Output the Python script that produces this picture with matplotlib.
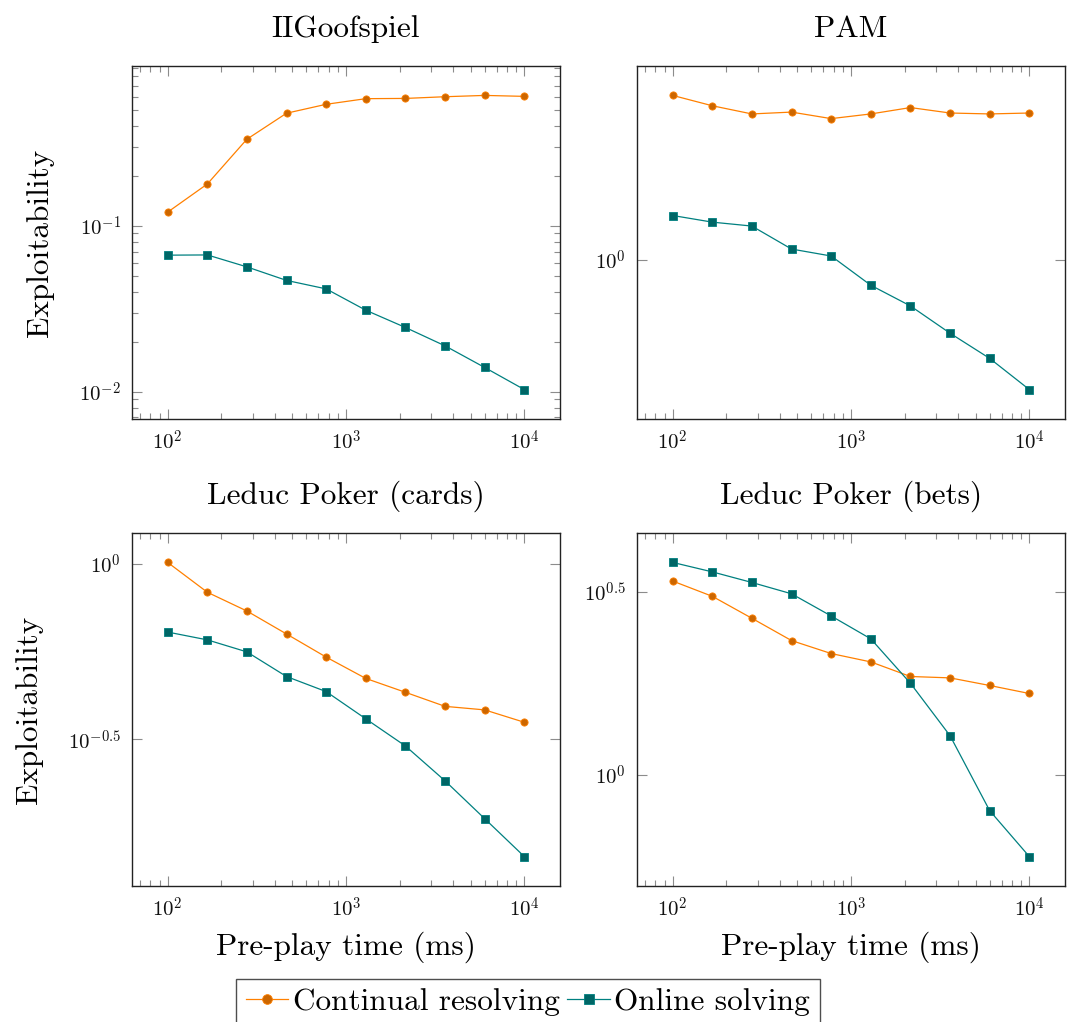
import numpy as np
import matplotlib
matplotlib.use("Agg")
import matplotlib.pyplot as plt
from matplotlib.ticker import FixedLocator, FixedFormatter, LogLocator, NullLocator, NullFormatter
from matplotlib.lines import Line2D

plt.rcParams['font.family'] = ['cmr10', 'DejaVu Serif']
plt.rcParams['mathtext.fontset'] = 'cm'
plt.rcParams['axes.unicode_minus'] = False
plt.rcParams['axes.formatter.use_mathtext'] = True

# ---------------- data ----------------
x_ms = [100, 167, 278, 464, 774, 1292, 2154, 3594, 5995, 10000]

goof_cr = [0.121, 0.179, 0.333, 0.478, 0.541, 0.585, 0.587, 0.601, 0.612, 0.604]
goof_os = [0.0666, 0.0668, 0.0566, 0.0469, 0.0417, 0.0310, 0.0244, 0.0189, 0.0140, 0.0103]

pam_cr = [2.32, 2.20, 2.11, 2.13, 2.06, 2.11, 2.18, 2.12, 2.11, 2.12]
pam_os = [1.254, 1.212, 1.188, 1.056, 1.019, 0.877, 0.789, 0.686, 0.603, 0.514]

cards_cr = [1.011, 0.831, 0.735, 0.632, 0.543, 0.472, 0.431, 0.393, 0.384, 0.354]
cards_os = [0.640, 0.608, 0.562, 0.478, 0.433, 0.362, 0.303, 0.241, 0.188, 0.1466]

bets_cr = [3.38, 3.07, 2.675, 2.325, 2.143, 2.033, 1.855, 1.839, 1.753, 1.667]
bets_os = [3.80, 3.58, 3.35, 3.12, 2.714, 2.35, 1.778, 1.278, 0.798, 0.598]

titles = ["IIGoofspiel", "PAM", "Leduc Poker (cards)", "Leduc Poker (bets)"]
series_names = ["Continual resolving", "Online solving"]

x_ticks = [1e2, 1e3, 1e4]
x_tick_labels = [r"$10^{2}$", r"$10^{3}$", r"$10^{4}$"]

goof_yticks = [1e-2, 1e-1]
goof_ylabels = [r"$10^{-2}$", r"$10^{-1}$"]
pam_yticks = [1.0]
pam_ylabels = [r"$10^{0}$"]
cards_yticks = [10 ** -0.5, 1.0]
cards_ylabels = [r"$10^{-0.5}$", r"$10^{0}$"]
bets_yticks = [1.0, 10 ** 0.5]
bets_ylabels = [r"$10^{0}$", r"$10^{0.5}$"]

ylabel = "Exploitability"
xlabel = "Pre-play time (ms)"

# ---------------- style ----------------
ORANGE = "#FF8000"
ORANGE_D = "#CC6600"
TEAL = "#008080"
TEAL_D = "#006666"
TICK_C = "#8c8c8c"
BIG = 22.5
SMALL = 15

W, H = 1068, 1022
fig = plt.figure(figsize=(W / 100, H / 100), dpi=100)


def px_axes(l, t, r, b):
    return fig.add_axes([l / W, 1 - b / H, (r - l) / W, (b - t) / H])


def enlarged(vals, frac=0.1):
    lv = np.log10(np.asarray(vals, dtype=float))
    lo, hi = lv.min(), lv.max()
    d = (hi - lo) * frac
    return 10 ** (lo - d), 10 ** (hi + d)


panels = [
    (132, 66, 560, 419, goof_cr, goof_os, goof_yticks, goof_ylabels, True),
    (637, 66, 1065, 419, pam_cr, pam_os, pam_yticks, pam_ylabels, False),
    (132, 533, 560, 886, cards_cr, cards_os, cards_yticks, cards_ylabels, False),
    (637, 533, 1065, 886, bets_cr, bets_os, bets_yticks, bets_ylabels, False),
]

for i, (l, t, r, b, cr, os_, yt, yl, yminor) in enumerate(panels):
    ax = px_axes(l, t, r, b)
    ax.set_xscale("log")
    ax.set_yscale("log")
    ax.plot(x_ms, cr, color=ORANGE, lw=0.9, marker="o", ms=5.2,
            mfc=ORANGE_D, mec=ORANGE, mew=0.6, zorder=3)
    ax.plot(x_ms, os_, color=TEAL, lw=0.9, marker="s", ms=5.2,
            mfc=TEAL_D, mec=TEAL, mew=0.6, zorder=3)
    ax.set_xlim(*enlarged(x_ms))
    ax.set_ylim(*enlarged(list(cr) + list(os_)))

    ax.xaxis.set_major_locator(FixedLocator(x_ticks))
    ax.xaxis.set_major_formatter(FixedFormatter(x_tick_labels))
    ax.xaxis.set_minor_locator(LogLocator(base=10, subs=np.arange(2, 10)))
    ax.xaxis.set_minor_formatter(NullFormatter())

    ax.yaxis.set_major_locator(FixedLocator(yt))
    ax.yaxis.set_major_formatter(FixedFormatter(yl))
    if yminor:
        ax.yaxis.set_minor_locator(LogLocator(base=10, subs=np.arange(2, 10)))
    else:
        ax.yaxis.set_minor_locator(NullLocator())
    ax.yaxis.set_minor_formatter(NullFormatter())

    ax.tick_params(which="both", direction="in", top=True, right=True,
                   color=TICK_C, width=0.8, labelsize=SMALL, labelcolor="#111111")
    ax.tick_params(which="major", length=7, pad=8)
    ax.tick_params(which="minor", length=4.5)
    for s in ax.spines.values():
        s.set_linewidth(1.0)
        s.set_color("#222222")

    ax.set_title(titles[i], fontsize=BIG, pad=21)
    if i in (0, 2):
        ax.set_ylabel(ylabel, fontsize=BIG, labelpad=18)
    if i in (2, 3):
        ax.set_xlabel(xlabel, fontsize=BIG, labelpad=7)

handles = [
    Line2D([], [], color=ORANGE, lw=0.9, marker="o", ms=7, mfc=ORANGE_D, mec=ORANGE, mew=0.6),
    Line2D([], [], color=TEAL, lw=0.9, marker="s", ms=7, mfc=TEAL_D, mec=TEAL, mew=0.6),
]
leg = fig.legend(handles, series_names, loc="upper center",
                 bbox_to_anchor=(528 / W, 1 - 979 / H), ncol=2, fontsize=BIG,
                 frameon=True, fancybox=False, edgecolor="#222222",
                 handlelength=1.35, handletextpad=0.15, columnspacing=0.25,
                 borderpad=0.3, borderaxespad=0)
leg.get_frame().set_linewidth(1.0)

fig.savefig("out.png", dpi=100)
